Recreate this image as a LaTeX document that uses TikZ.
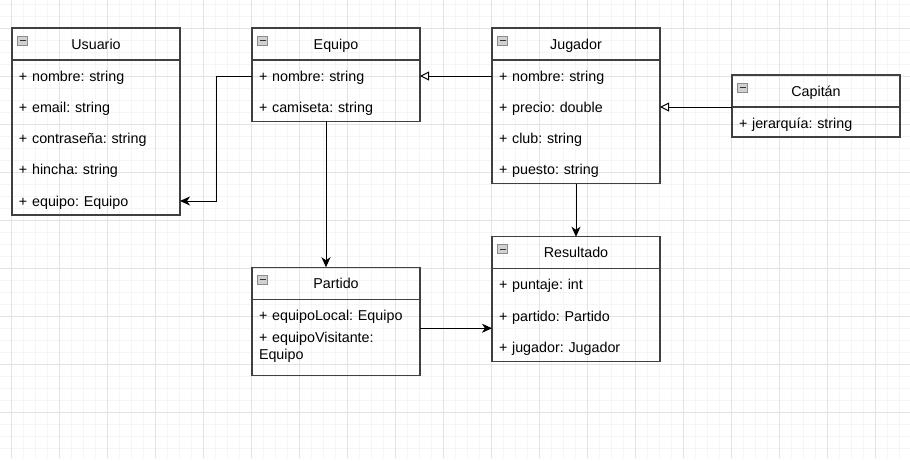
\documentclass[tikz,border=0pt]{standalone}
\usepackage{fontspec}
\setmainfont{Liberation Sans}
\usetikzlibrary{positioning,arrows.meta}

\begin{document}
\frenchspacing
\begin{tikzpicture}[
    x=1pt, y=-1pt,
    node distance=72pt,
    classhead/.style={rectangle, draw=black!75, line width=1.2pt, minimum width=168pt, minimum height=32pt, inner sep=0pt, outer sep=0pt, text height=10pt, text depth=0pt, font=\fontsize{14.3}{14}\selectfont,
        path picture={\draw[draw=black!45, fill=black!18, line width=0.6pt] ([shift={(5.5pt,-8pt)}]path picture bounding box.north west) rectangle ++(10pt,-9pt);
                      \draw[black!80, line width=1pt] ([shift={(7.5pt,-12.5pt)}]path picture bounding box.north west) -- ++(6pt,0pt);}},
    attrs/.style={rectangle, draw=black!75, line width=1.2pt, text width=154pt, inner xsep=7pt, inner ysep=0pt, outer sep=0pt, align=left, font=\fontsize{14.3}{14}\selectfont,
        execute at begin node={\rule{0pt}{21pt}}, execute at end node={\rule[-#1]{0pt}{#1}}},
    attrs/.default=9pt,
    assoc/.style={-{Stealth[length=10pt, width=9pt, inset=3pt]}, line width=1pt},
    inherit/.style={-{Triangle[open, fill=white, length=9pt, width=9pt]}, line width=1pt},
    gridminor/.style={black!4, line width=0.8pt},
    gridmajor/.style={black!11, line width=0.8pt},
]

% Canvas with grid
\useasboundingbox[fill=white] (0,0) rectangle (910,461);
\foreach \gx in {11.5,23.5,...,910} \draw[gridminor] (\gx,0) -- (\gx,458);
\foreach \gy in {4.5,16.5,...,458} \draw[gridminor] (0,\gy) -- (910,\gy);
\foreach \gx in {11.5,59.5,...,910} \draw[gridmajor] (\gx,0) -- (\gx,458);
\foreach \gy in {28.5,76.5,...,458} \draw[gridmajor] (0,\gy) -- (910,\gy);

% Usuario
\node[classhead, anchor=north west] (usuarioh) at (12,28) {Usuario};
\node[attrs, below=0pt of usuarioh] (usuariob) {+ nombre: string\\[17.25pt]
    + email: string\\[17.25pt]
    + contraseña: string\\[17.25pt]
    + hincha: string\\[17.25pt]
    + equipo: Equipo};

% Equipo
\node[classhead, right=of usuarioh] (equipoh) {Equipo};
\node[attrs, below=0pt of equipoh] (equipob) {+ nombre: string\\[17.25pt]
    + camiseta: string};

% Jugador
\node[classhead, right=of equipoh] (jugadorh) {Jugador};
\node[attrs, below=0pt of jugadorh] (jugadorb) {+ nombre: string\\[17.25pt]
    + precio: double\\[17.25pt]
    + club: string\\[17.25pt]
    + puesto: string};

% Capitan
\node[classhead, below right=15pt and 72pt of jugadorh] (capitanh) {Capitán};
\node[attrs, below=0pt of capitanh] (capitanb) {+ jerarquía: string};

% Partido
\node[classhead, below=146pt of equipob] (partidoh) {Partido};
\node[attrs=16pt, below=0pt of partidoh] (partidob) {+ equipoLocal: Equipo\\[8pt]
    + equipoVisitante:\\[3pt]
    Equipo};

% Resultado
\node[classhead, below=53pt of jugadorb] (resultadoh) {Resultado};
\node[attrs, below=0pt of resultadoh] (resultadob) {+ puntaje: int\\[17.25pt]
    + partido: Partido\\[17.25pt]
    + jugador: Jugador};

% Connectors
\draw[assoc] ([yshift=-16pt]equipob.north west) -- ++(-36,0) |- ([yshift=14pt]usuariob.south east);
\draw[inherit] ([yshift=-16pt]jugadorb.north west) -- ([yshift=-16pt]equipob.north east);
\draw[inherit] (capitanb.north west) -- (capitanb.north west -| jugadorb.east);
\draw[assoc] ([xshift=-10pt]equipob.south) -- ([xshift=-10pt]partidoh.north);
\draw[assoc] (jugadorb.south) -- (resultadoh.north);
\draw[assoc] ([yshift=-29pt]partidob.north east) -- ([yshift=-29pt]partidob.north east -| resultadob.west);

\end{tikzpicture}
\end{document}
